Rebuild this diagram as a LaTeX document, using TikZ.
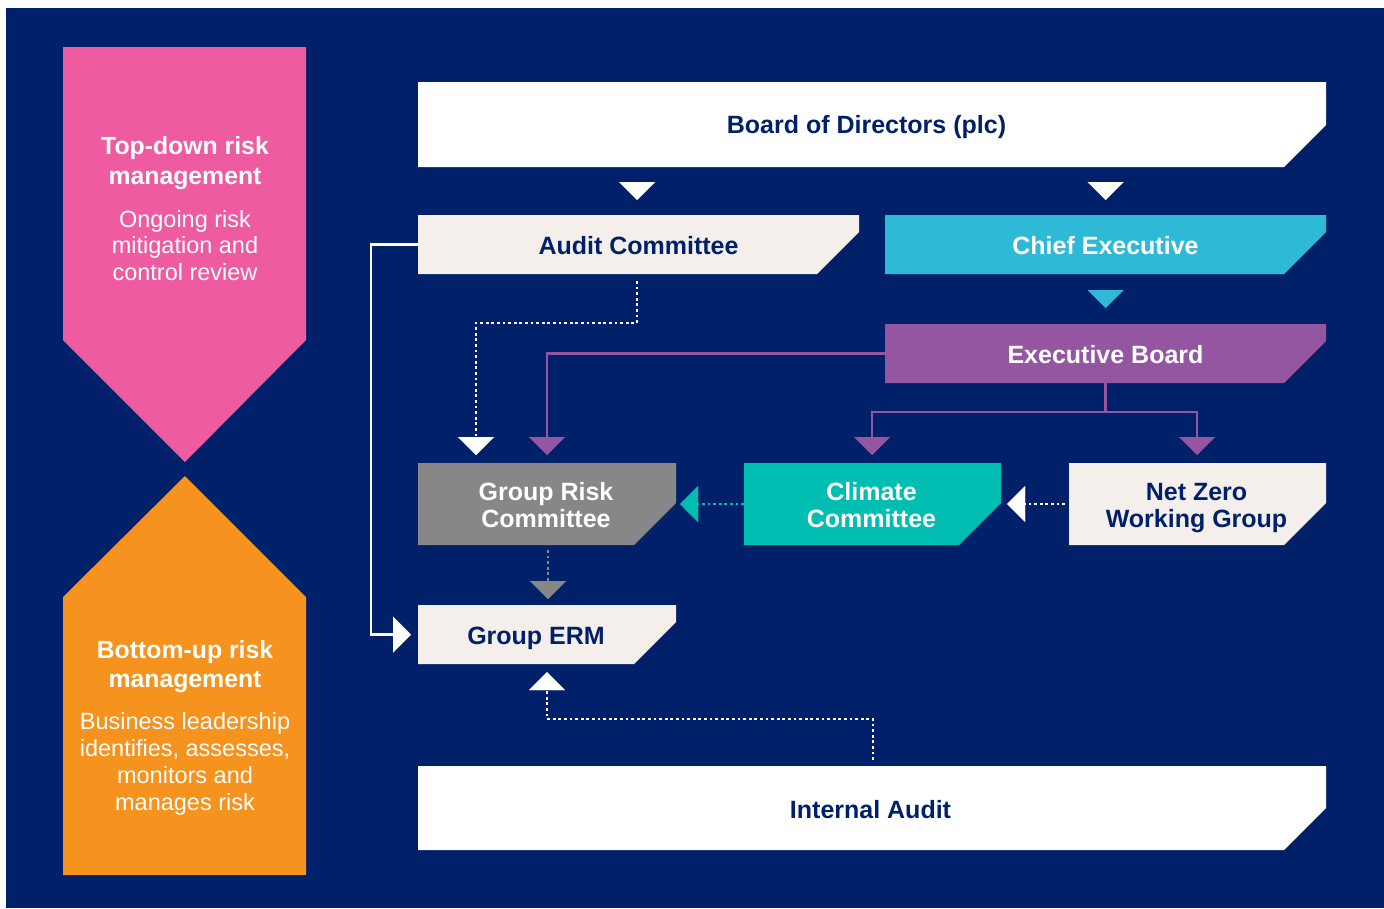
\documentclass[tikz,border=0pt]{standalone}
\usepackage{fontspec}
\setmainfont{Liberation Sans}
\usetikzlibrary{arrows.meta,calc}
\definecolor{navy}{HTML}{00216A}
\definecolor{pinkc}{HTML}{EE5BA1}
\definecolor{orangec}{HTML}{F6921E}
\definecolor{offw}{HTML}{F4EFEB}
\definecolor{cyanc}{HTML}{2EBAD7}
\definecolor{purplec}{HTML}{9456A1}
\definecolor{grayc}{HTML}{878787}
\definecolor{tealc}{HTML}{00BEB2}
\begin{document}
\begin{tikzpicture}[x=1pt,y=-1pt,
  box/.style={inner sep=0pt, outer sep=0pt,
    path picture={\fill[#1] (path picture bounding box.north west) -- (path picture bounding box.north east)
      -- ([yshift=42pt]path picture bounding box.south east) -- ([xshift=-42pt]path picture bounding box.south east)
      -- (path picture bounding box.south west) -- cycle;}},
  btxt/.style={inner sep=0pt, align=center, font=\fontsize{25}{27}\selectfont\bfseries},
  tri/.style={-{Triangle[width=36pt,length=18pt,line width=0.01pt]}},
  tip/.style={line width=0.01pt, tri},
  dotl/.style={line width=2.8pt, dash pattern=on 2.8pt off 2.8pt, tri},
  sline/.style={line width=2.6pt, tri},
  headt/.style={text=white, align=center, font=\fontsize{24.8}{29.5}\selectfont\bfseries},
  bodyt/.style={text=white, align=center, font=\fontsize{23.5}{26.8}\selectfont}
]
\useasboundingbox (0,0) rectangle (1384,908);
\fill[white] (0,0) rectangle (1384,908);
\fill[navy] (6,8) rectangle (1384,908);

% left side shapes
\fill[pinkc] (63,47) -- (306,47) -- (306,340) -- (185,462) -- (63,340) -- cycle;
\fill[orangec] (185,476) -- (306,597) -- (306,875) -- (63,875) -- (63,597) -- cycle;
\node[headt] (tdh) at (185,163) {Top-down risk\\management};
\node[bodyt] (tdb) at (185,245.5) {Ongoing risk\\mitigation and\\control review};
\node[headt] (buh) at (185,666.5) {Bottom-up risk\\management};
\node[bodyt] (bub) at (185,764) {Business leadership\\identifies, assesses,\\monitors and\\manages risk};

% boxes
\node[box=white, minimum width=908pt, minimum height=85pt] (board) at (872,124.5) {};
\node[box=offw, minimum width=441pt, minimum height=59pt] (audit) at (638.5,244.5) {};
\node[box=cyanc, minimum width=441pt, minimum height=59pt] (chief) at (1105.5,244.5) {};
\node[box=purplec, minimum width=441pt, minimum height=59pt] (exec) at (1105.5,353.5) {};
\node[box=grayc, minimum width=258pt, minimum height=82pt] (grc) at (547,504) {};
\node[box=tealc, minimum width=257pt, minimum height=82pt] (climate) at (872.5,504) {};
\node[box=offw, minimum width=257pt, minimum height=82pt] (netzero) at (1197.5,504) {};
\node[box=offw, minimum width=258pt, minimum height=59pt] (erm) at (547,634.5) {};
\node[box=white, minimum width=908pt, minimum height=84pt] (ia) at (872,808) {};

% box texts
\node[btxt, text=navy] (boardt) at ($(board.center)+(-5.5,3)$) {Board of Directors (plc)};
\node[btxt, text=navy] (auditt) at ($(audit.center)+(0,1.5)$) {Audit Committee};
\node[btxt, text=white] (chieft) at ($(chief.center)+(0,1)$) {Chief Executive};
\node[btxt, text=white] (exect) at ($(exec.center)+(0,1)$) {Executive Board};
\node[btxt, text=white] (grct) at ($(grc.center)+(-1,1.5)$) {Group Risk\\Committee};
\node[btxt, text=white] (climatet) at ($(climate.center)+(-1,1.5)$) {Climate\\Committee};
\node[btxt, text=navy] (netzerot) at ($(netzero.center)+(-1,4)$) {Net Zero\\Working Group};
\node[btxt, text=navy] (ermt) at ($(erm.center)+(-11,3.5)$) {Group ERM};
\node[btxt, text=navy] (iat) at ($(ia.center)+(-1.5,1.5)$) {Internal Audit};

% connectors
\draw[tip, white] ($(board.south -| audit.north)+(-1.5,15)$) -- ($(audit.north)+(-1.5,-15)$);
\draw[tip, white] ($(board.south -| chief.north)+(0,15)$) -- ($(chief.north)+(0,-15)$);
\draw[tip, cyanc] ($(chief.south)+(0,16.5)$) -- ($(exec.north)+(0,-16)$);

\draw[dotl, white] ($(audit.south)+(-1.5,7)$) |- ($(grc.north west)+(58,-140)$) -- ($(grc.north west)+(58,-8)$);
\draw[sline, purplec] (exec.west) -| ($(grc.north)+(0,-8)$);
\draw[line width=2.6pt, purplec] (exec.south) -- ++(0,29) coordinate (split);
\draw[sline, purplec] (split) -| ($(climate.north)+(-0.5,-8)$);
\draw[sline, purplec] (split) -| ($(netzero.north)+(-0.5,-8)$);

\draw[dotl, tealc] (climate.west) -- ($(grc.east)+(4,0)$);
\draw[dotl, white] ($(netzero.west)+(-4,0)$) -- ($(climate.east)+(6,0)$);
\draw[dotl, grayc] ($(grc.south)+(1,5)$) -- ($(erm.north)+(1,-6)$);

\draw[sline, white] (audit.west) -- ++(-47,0) |- ($(erm.west)+(-7,0)$);
\draw[dotl, white] ($(ia.north)+(1,-6)$) |- ($(erm.south)+(0,55)$) -- ($(erm.south)+(0,8)$);
\end{tikzpicture}
\end{document}
